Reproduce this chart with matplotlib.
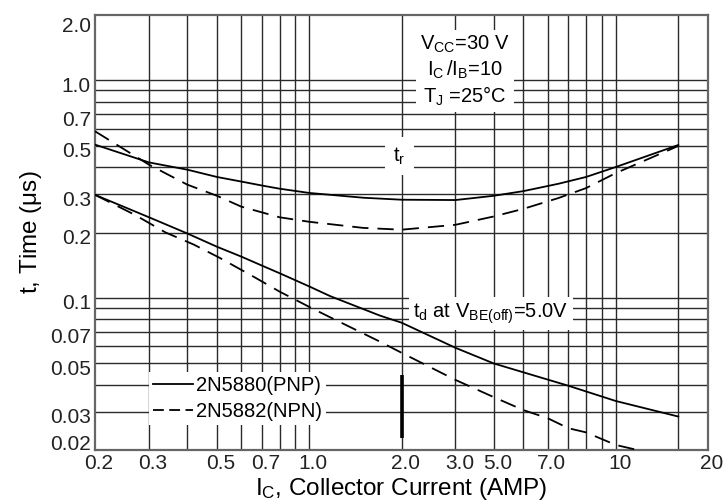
import matplotlib
matplotlib.use('Agg')
import matplotlib.pyplot as plt
import matplotlib.transforms as mtransforms
from matplotlib.lines import Line2D

# rise time t_r, 2N5880 (PNP, solid) and 2N5882 (NPN, dashed)
ic_tr_pnp = [0.2, 0.3, 0.4, 0.5, 0.6, 0.7, 0.8, 1.0, 1.5, 2.0, 3.0, 4.0, 5.0, 6.5, 8.0, 10, 16]
tr_pnp = [0.507, 0.42, 0.389, 0.36, 0.343, 0.329, 0.318, 0.304, 0.289, 0.283, 0.282, 0.295,
          0.31, 0.335, 0.36, 0.40, 0.505]
ic_tr_npn = [0.2, 0.3, 0.4, 0.5, 0.6, 0.8, 1.0, 1.5, 2.0, 3.0, 4.0, 5.0, 6.5, 8.0, 10, 16]
tr_npn = [0.584, 0.41, 0.332, 0.295, 0.263, 0.235, 0.224, 0.21, 0.206, 0.217, 0.237, 0.257,
          0.288, 0.32, 0.375, 0.50]

# delay time t_d
ic_td_pnp = [0.2, 0.3, 0.4, 0.5, 0.6, 0.7, 0.8, 1.0, 1.17, 1.7, 2.0, 3.0, 4.0, 5.0, 7.0, 10, 16]
td_pnp = [0.298, 0.235, 0.198, 0.172, 0.155, 0.141, 0.13, 0.113, 0.102, 0.083, 0.077, 0.059,
          0.05, 0.0455, 0.0395, 0.0336, 0.0285]
ic_td_npn = [0.2, 0.27, 0.34, 0.42, 0.51, 0.66, 0.8, 1.0, 1.14, 1.7, 2.0, 3.0, 4.0, 5.0, 6.0,
             7.0, 8.0, 10, 11.6]
td_npn = [0.298, 0.241, 0.2, 0.176, 0.153, 0.125, 0.107, 0.091, 0.083, 0.063, 0.056, 0.042,
          0.035, 0.0305, 0.028, 0.0252, 0.0241, 0.0211, 0.0201]

# axes ticks (labels sit where the scan prints them)
x_ticks = [0.2, 0.3, 0.5, 0.7, 1.0, 2.0, 3.0, 4.0, 6.0, 10, 20]
x_ticklabels = ['0.2', '0.3', '0.5', '0.7', '1.0', '2.0', '3.0', '5.0', '7.0', '10', '20']
y_ticks = [0.02, 0.03, 0.05, 0.07, 0.1, 0.2, 0.3, 0.5, 0.7, 1.0, 2.0]
y_ticklabels = ['0.02', '0.03', '0.05', '0.07', '0.1', '0.2', '0.3', '0.5', '0.7', '1.0', '2.0']

x_grid = [0.3, 0.4, 0.5, 0.6, 0.7, 0.8, 0.9, 1.0, 2, 3, 4, 5, 6, 7, 8, 9, 10, 16]
y_grid = [0.03, 0.04, 0.05, 0.06, 0.07, 0.08, 0.09, 0.1,
          0.2, 0.3, 0.4, 0.5, 0.6, 0.7, 0.8, 0.9, 1.0]

# scan artefact: thick dark stroke on the 2.0 line
mark_x = 2.0
mark_y = [0.0226, 0.0442]

plt.rcParams['font.family'] = ['Liberation Sans', 'DejaVu Sans']
plt.rcParams['mathtext.fontset'] = 'custom'
plt.rcParams['mathtext.rm'] = 'Liberation Sans'
plt.rcParams['mathtext.it'] = 'Liberation Sans:italic'

fig = plt.figure(figsize=(7.23, 5.04), dpi=100)
ax = fig.add_axes([95 / 723, 54 / 504, 613 / 723, 435 / 504])
ax.set_xscale('log')
ax.set_yscale('log')
ax.set_xlim(0.2, 20)
ax.set_ylim(0.02, 2.0)

gcol = '#2a2a2a'
for v in x_grid:
    ax.axvline(v, color=gcol, lw=1.0, zorder=1)
for v in y_grid:
    ax.axhline(v, color=gcol, lw=1.0, zorder=1)

ax.vlines(mark_x, mark_y[0], mark_y[1], color='black', lw=2.6, zorder=2)

ax.plot(ic_tr_pnp, tr_pnp, color='black', lw=1.3, zorder=5)
ax.plot(ic_tr_npn, tr_npn, color='black', lw=1.3, dashes=(9, 5), zorder=5)
ax.plot(ic_td_pnp, td_pnp, color='black', lw=1.3, zorder=5)
ax.plot(ic_td_npn, td_npn, color='black', lw=1.3, dashes=(9, 5), zorder=5)

ax.set_xticks(x_ticks)
ax.set_xticklabels(x_ticklabels)
ax.set_yticks(y_ticks)
ax.set_yticklabels(y_ticklabels)
ax.minorticks_off()
ax.tick_params(length=0, labelsize=15, colors='#222222', pad=3)

dx = mtransforms.ScaledTranslation(4 / 100, 0, fig.dpi_scale_trans)
for lab in ax.get_xticklabels():
    lab.set_transform(lab.get_transform() + dx)
# the scan prints most y labels a little below their lines
y_shift = {'2.0': -10, '0.02': 7}
for lab in ax.get_yticklabels():
    off = y_shift.get(lab.get_text(), -4)
    lab.set_transform(lab.get_transform() +
                      mtransforms.ScaledTranslation(0, off / 100, fig.dpi_scale_trans))

for sp in ax.spines.values():
    sp.set_color('#666666')
    sp.set_linewidth(1.6)

ax.set_xlabel(r'$\mathregular{I_C}$, Collector Current (AMP)', fontsize=17.5, labelpad=2)
ax.set_ylabel(r't, Time ($\mathregular{\mu}$s)', fontsize=17.5, labelpad=4)

box = dict(facecolor='white', edgecolor='none', pad=3)
ax.text(0.604, 0.872,
        '$\\mathregular{V_{CC}}$=30 V\n$\\mathregular{I_C\\,/I_B}$=10\n$\\mathregular{T_J}$ =25\u00b0C',
        transform=ax.transAxes, ha='center', va='center', multialignment='center',
        fontsize=14.5, linespacing=1.2, bbox=box, zorder=3)
ax.text(0.497, 0.675, r'$\mathregular{t_r}$', transform=ax.transAxes,
        ha='center', va='center', fontsize=14.5,
        bbox=dict(facecolor='white', edgecolor='none', pad=6), zorder=3)
ax.text(0.646, 0.314, r'$\mathregular{t_d}$ at $\mathregular{V_{BE(off)}}$=5.0V',
        transform=ax.transAxes, ha='center', va='center', fontsize=14.5,
        bbox=box, zorder=3)

handles = [Line2D([], [], color='black', lw=1.3),
           Line2D([], [], color='black', lw=1.3, dashes=(6, 3))]
ax.legend(handles, ['2N5880(PNP)', '2N5882(NPN)'], loc='upper left',
          bbox_to_anchor=(0.088, 0.18), fontsize=14.5, frameon=True,
          facecolor='white', edgecolor='none', framealpha=1, fancybox=False,
          handlelength=2.0, handletextpad=0.15, labelspacing=0.38,
          borderpad=0.2, borderaxespad=0).set_zorder(3)

fig.savefig('out.png', dpi=100)
